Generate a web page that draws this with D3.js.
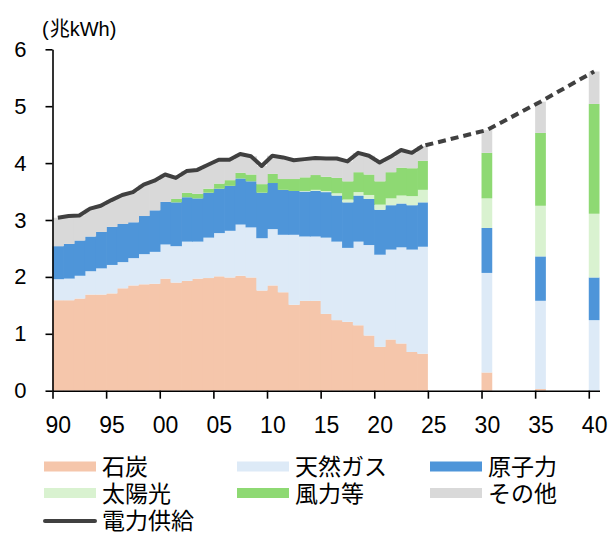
<!DOCTYPE html>
<html><head><meta charset="utf-8">
<script src="https://cdn.jsdelivr.net/npm/d3@7"></script>
<style>
html,body{margin:0;padding:0;background:#fff;}
text{font-family:"Liberation Sans",Arial,"Noto Sans CJK JP",sans-serif;fill:#000;}
</style></head>
<body><svg id="chart" width="609" height="534"></svg>
<script>
// ---- data (兆kWh) ----
const years = [1990,1991,1992,1993,1994,1995,1996,1997,1998,1999,2000,2001,2002,2003,2004,2005,2006,2007,2008,2009,2010,2011,2012,2013,2014,2015,2016,2017,2018,2019,2020,2021,2022,2023,2024];
const coal = [1.59,1.59,1.62,1.69,1.69,1.71,1.80,1.85,1.87,1.88,1.97,1.90,1.93,1.97,1.98,2.01,1.99,2.02,1.99,1.76,1.85,1.73,1.51,1.58,1.58,1.35,1.24,1.21,1.15,0.97,0.77,0.90,0.83,0.68,0.65];
const gas = [0.37,0.38,0.40,0.41,0.46,0.50,0.46,0.48,0.53,0.56,0.60,0.64,0.69,0.65,0.71,0.76,0.82,0.90,0.88,0.92,0.99,1.01,1.23,1.13,1.13,1.34,1.38,1.30,1.47,1.59,1.62,1.58,1.69,1.80,1.88];
const nuclear = [0.58,0.61,0.62,0.61,0.64,0.67,0.67,0.63,0.67,0.73,0.75,0.77,0.78,0.76,0.79,0.78,0.79,0.81,0.81,0.80,0.81,0.79,0.77,0.79,0.80,0.80,0.81,0.80,0.81,0.81,0.79,0.78,0.77,0.78,0.78];
const solar = [0,0,0,0,0,0,0,0,0,0,0,0,0,0,0,0,0,0,0,0,0,0,0,0.01,0.02,0.02,0.04,0.05,0.06,0.07,0.09,0.12,0.14,0.16,0.22];
const wind = [0,0,0,0,0,0,0,0,0,0,0,0.06,0.08,0.08,0.07,0.09,0.10,0.10,0.12,0.15,0.16,0.19,0.21,0.24,0.26,0.25,0.27,0.32,0.35,0.36,0.41,0.46,0.49,0.49,0.51];
const other = [0.50,0.49,0.44,0.49,0.46,0.47,0.51,0.53,0.55,0.52,0.48,0.37,0.38,0.42,0.42,0.42,0.36,0.33,0.32,0.32,0.32,0.38,0.33,0.32,0.30,0.32,0.34,0.35,0.34,0.33,0.33,0.27,0.31,0.27,0.26];
const supply = [3.04,3.07,3.08,3.20,3.25,3.35,3.44,3.49,3.62,3.69,3.80,3.74,3.86,3.88,3.97,4.06,4.06,4.16,4.12,3.95,4.13,4.10,4.05,4.07,4.09,4.08,4.08,4.03,4.18,4.13,4.01,4.11,4.23,4.18,4.30];

const projYears = [2030,2035,2040];
const coalP = [0.32,0.03,0.00];
const gasP = [1.75,1.55,1.24];
const nuclearP = [0.79,0.78,0.75];
const solarP = [0.52,0.89,1.12];
const windP = [0.80,1.28,1.93];
const otherP = [0.40,0.55,0.57];
const supplyP = [4.58,5.08,5.61];

const tickYears = [1990,1995,2000,2005,2010,2015,2020,2025,2030,2035,2040];
const tickLabels = ["90","95","00","05","10","15","20","25","30","35","40"];
const yTicks = [0,1,2,3,4,5,6];

const keys = ["coal","gas","nuclear","solar","wind","other"];
const names = {coal:"石炭",gas:"天然ガス",nuclear:"原子力",solar:"太陽光",wind:"風力等",other:"その他"};
const colors = {coal:"#F5C6AB",gas:"#DDEAF7",nuclear:"#4E95D9",solar:"#D9F2D0",wind:"#8ED973",other:"#D9D9D9"};
const lineName = "電力供給";

// ---- table ----
const rows = years.map((yr,i)=>({year:yr,coal:coal[i],gas:gas[i],nuclear:nuclear[i],solar:solar[i],wind:wind[i],other:other[i]}))
  .concat(projYears.map((yr,i)=>({year:yr,coal:coalP[i],gas:gasP[i],nuclear:nuclearP[i],solar:solarP[i],wind:windP[i],other:otherP[i]})));
const lastHist = years[years.length-1];

const svg = d3.select("#chart");
const x = d3.scaleLinear().domain([1990,2041]).range([52.5,599.5]);
const y = d3.scaleLinear().domain([0,6]).range([390.7,49.3]);

const stacked = d3.stack().keys(keys)(rows);
const g = svg.append("g");
stacked.forEach(layer=>{
  g.selectAll(null).data(layer).enter().append("rect")
    .attr("x",d=>x(d.data.year))
    .attr("width",d=>x(d.data.year+1)-x(d.data.year)+(d.data.year<lastHist?0.7:0))
    .attr("y",d=>y(d[1]))
    .attr("height",d=>Math.max(0,y(d[0])-y(d[1])))
    .attr("fill",colors[layer.key]);
});

// supply line
const line = d3.line().x(d=>x(d[0]+0.5)).y(d=>y(d[1]));
const hist = years.map((yr,i)=>[yr,supply[i]]);
const proj = [[lastHist,supply[supply.length-1]]].concat(projYears.map((yr,i)=>[yr,supplyP[i]]));
svg.append("path").attr("d",line(hist)).attr("fill","none").attr("stroke","#404040")
  .attr("stroke-width",4).attr("stroke-linejoin","round");
svg.append("path").attr("d",line(proj)).attr("fill","none").attr("stroke","#404040")
  .attr("stroke-width",4).attr("stroke-dasharray","8,5").attr("stroke-dashoffset",-3);

// axes
const ya = svg.append("g").attr("transform",`translate(${x(1990)},0)`)
  .call(d3.axisLeft(y).tickValues(yTicks).tickSize(7).tickSizeOuter(0).tickPadding(19).tickFormat(d3.format("d")));
ya.selectAll("text").style("font-size","22px");
const xa = svg.append("g").attr("transform",`translate(0,${y(0)})`)
  .call(d3.axisBottom(x).tickValues(tickYears).tickSize(8).tickSizeOuter(0).tickPadding(18).tickFormat((d,i)=>tickLabels[i]));
xa.selectAll("text").style("font-size","23px").attr("x",x(1990.5)-x(1990));
svg.selectAll(".domain, .tick line").attr("stroke","#000").attr("stroke-width",1.6);

// unit label
const ul = svg.append("text").attr("x",42).attr("y",36).style("font-size","20px");
ul.append("tspan").text("(");
ul.append("tspan").attr("dx",1).style("font-family","'Noto Sans CJK JP',sans-serif").text("兆");
ul.append("tspan").text("kWh)");

// legend
const legX = [44,237,430], legY = [466.5,493,520];
keys.forEach((k,i)=>{
  const cx = legX[i%3], cy = legY[Math.floor(i/3)];
  svg.append("rect").attr("x",cx).attr("y",cy-5).attr("width",52).attr("height",10).attr("fill",colors[k]);
  svg.append("text").attr("x",cx+58).attr("y",cy).attr("dy","0.37em").style("font-size","23px").text(names[k]);
});
svg.append("line").attr("x1",legX[0]+1).attr("x2",legX[0]+51).attr("y1",legY[2]+1).attr("y2",legY[2]+1)
  .attr("stroke","#404040").attr("stroke-width",4).attr("stroke-linecap","round");
svg.append("text").attr("x",legX[0]+58).attr("y",legY[2]).attr("dy","0.37em").style("font-size","23px").text(lineName);
</script></body></html>
